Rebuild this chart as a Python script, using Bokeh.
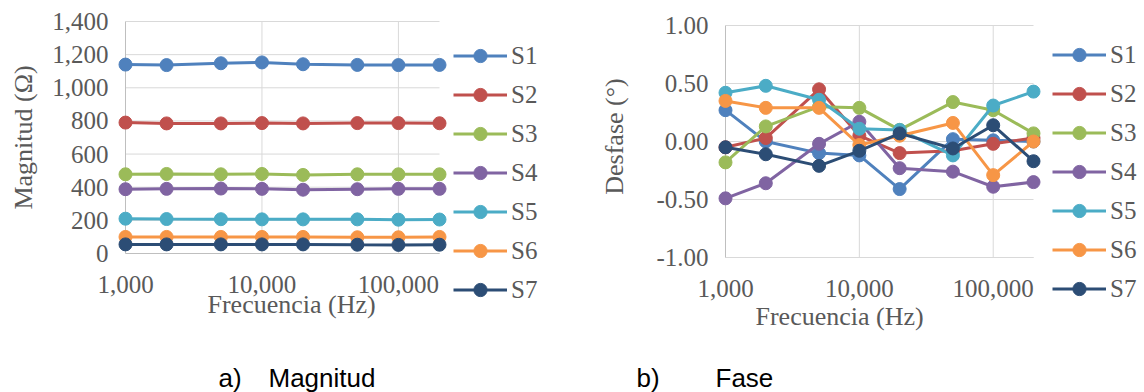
import math
from bokeh.plotting import figure
from bokeh.models import (Range1d, FixedTicker, NumeralTickFormatter, Legend,
                          LegendItem, ColumnDataSource)
from bokeh.layouts import row
from bokeh.embed import file_html
from bokeh.resources import INLINE
from bokeh.core.properties import value

# ---------------- data ----------------
freqs = [1000, 2000, 5000, 10000, 20000, 50000, 100000, 200000]
series_names = ["S1", "S2", "S3", "S4", "S5", "S6", "S7"]

mag_S1 = [1140, 1137, 1148, 1153, 1142, 1138, 1137, 1138]
mag_S2 = [790, 785, 785, 787, 785, 787, 787, 786]
mag_S3 = [478, 480, 478, 480, 474, 478, 478, 478]
mag_S4 = [388, 390, 392, 390, 385, 388, 390, 390]
mag_S5 = [210, 208, 207, 206, 206, 206, 204, 205]
mag_S6 = [100, 100, 100, 100, 100, 98, 98, 100]
mag_S7 = [55, 55, 55, 55, 55, 53, 52, 53]

pha_S1 = [0.27, 0.00, -0.10, -0.12, -0.41, 0.02, 0.01, 0.00]
pha_S2 = [-0.05, 0.03, 0.45, 0.05, -0.10, -0.08, -0.02, 0.03]
pha_S3 = [-0.18, 0.13, 0.30, 0.29, 0.10, 0.34, 0.27, 0.07]
pha_S4 = [-0.49, -0.36, -0.02, 0.17, -0.23, -0.26, -0.39, -0.35]
pha_S5 = [0.42, 0.48, 0.36, 0.11, 0.10, -0.12, 0.31, 0.43]
pha_S6 = [0.35, 0.29, 0.29, -0.03, 0.05, 0.16, -0.29, 0.00]
pha_S7 = [-0.05, -0.11, -0.21, -0.08, 0.07, -0.06, 0.14, -0.17]

x_ticks = [1000, 10000, 100000]
mag_ticks = [0, 200, 400, 600, 800, 1000, 1200, 1400]
pha_ticks = [-1.0, -0.5, 0.0, 0.5, 1.0]

mag_title_y = "Magnitud (\u03a9)"
pha_title_y = "Desfase (\u00b0)"
x_title = "Frecuencia (Hz)"
captions = ["a)", "Magnitud", "b)", "Fase"]

mag_series = [mag_S1, mag_S2, mag_S3, mag_S4, mag_S5, mag_S6, mag_S7]
pha_series = [pha_S1, pha_S2, pha_S3, pha_S4, pha_S5, pha_S6, pha_S7]

# ---------------- styles / layout (pixels from the picture's top-left) ----------------
colors = ["#4f81bd", "#c0504d", "#9bbb59", "#8064a2", "#4bacc6", "#f79646", "#2c4d75"]
TXT = "#595959"
FS = "25px"
FS_TITLE = "26px"
SERIF = value("Liberation Serif")
GRID = "#d9d9d9"
AXIS = "#bfbfbf"
FIG_H = 392
FRAME_BOTTOM = FIG_H
LEGEND_H = 268
TEXT_DY = -9   # correction for the rendered alphabetic baseline


def make_half(series, y_lo, y_hi, y_ticks, y_fmt, ytitle, caps, L):
    frame_right = L["canvas_left"] + L["width"]
    pl, pr, pt, pb = L["plot_left"], L["plot_right"], L["plot_top"], L["plot_bottom"]
    dec_per_px = (math.log10(freqs[-1]) - math.log10(freqs[0])) / (pr - pl)
    x_end = 10 ** (math.log10(freqs[0]) + (frame_right - pl) * dec_per_px)
    u_per_px = (y_hi - y_lo) / (pb - pt)
    y_start = y_lo - (FRAME_BOTTOM - pb) * u_per_px
    y_end = y_hi + pt * u_per_px

    p = figure(x_axis_type="log", x_range=Range1d(freqs[0], x_end),
               y_range=Range1d(y_start, y_end), width=L["width"], height=FIG_H,
               min_border_left=pl - L["canvas_left"], min_border_top=0,
               min_border_right=0, min_border_bottom=0, x_axis_location=None,
               toolbar_location=None, output_backend="svg",
               background_fill_color="white", border_fill_color="white")
    p.outline_line_color = None
    p.grid.visible = False

    # y axis (real axis, limited to the plot area)
    ax = p.yaxis[0]
    ax.ticker = FixedTicker(ticks=y_ticks)
    ax.formatter = NumeralTickFormatter(format=y_fmt)
    ax.bounds = (y_lo, y_hi)
    ax.major_tick_line_color = None
    ax.minor_tick_line_color = None
    ax.major_tick_in = 0
    ax.major_tick_out = 0
    ax.minor_tick_in = 0
    ax.minor_tick_out = 0
    ax.major_label_text_font = "Liberation Serif"
    ax.major_label_text_font_size = FS
    ax.major_label_text_color = TXT
    ax.major_label_standoff = 17
    ax.axis_line_color = AXIS

    # gridlines restricted to the plot area
    n_y, n_x = len(y_ticks), len(x_ticks)
    p.segment(x0=[freqs[0]] * n_y, x1=[freqs[-1]] * n_y, y0=y_ticks, y1=y_ticks,
              line_color=GRID, line_width=1, level="underlay")
    p.segment(x0=x_ticks, x1=x_ticks, y0=[y_lo] * n_x, y1=[y_hi] * n_x,
              line_color=GRID, line_width=1, level="underlay")
    p.segment(x0=[freqs[0]], x1=[freqs[-1]], y0=[y_lo], y1=[y_lo],
              line_color=L["bottom_axis"], line_width=1, level="underlay")

    # x tick labels
    p.text(x=x_ticks, y=[y_lo] * n_x, text=[f"{t:,}" for t in x_ticks],
           y_offset=L["tick_base"] - pb + TEXT_DY, level="overlay", text_font=SERIF,
           text_font_size=FS, text_color=TXT, text_align="center",
           text_baseline="alphabetic")
    # x title
    p.text(x=[freqs[0]], y=[y_lo], text=[x_title], x_offset=L["xt_x"] - pl,
           y_offset=L["xt_base"] - pb + TEXT_DY, level="overlay", text_font=SERIF,
           text_font_size=FS_TITLE, text_color=TXT, text_align="left",
           text_baseline="alphabetic")
    # y title
    p.text(x=[freqs[0]], y=[(y_lo + y_hi) / 2], text=[ytitle],
           x_offset=L["yt_x"] - pl, y_offset=L["yt_y"] - (pt + pb) / 2,
           angle=math.pi / 2, level="overlay", text_font=SERIF,
           text_font_size=FS_TITLE, text_color=TXT, text_align="center",
           text_baseline="middle")
    # caption
    p.text(x=[freqs[0]] * len(caps), y=[y_lo] * len(caps), text=caps,
           x_offset=[cx - pl for cx in L["cap_x"]],
           y_offset=L["cap_base"] - pb + TEXT_DY,
           level="overlay", text_font=value("Liberation Sans"), text_font_size="26px",
           text_color="black", text_align="left", text_baseline="alphabetic")

    # series
    items = []
    for name, col, vals in zip(series_names, colors, series):
        src = ColumnDataSource(dict(x=freqs, y=vals))
        ln = p.line("x", "y", source=src, line_color=col, line_width=3, level="overlay")
        sc = p.scatter("x", "y", source=src, size=13, fill_color=col, line_color=col,
                       level="overlay")
        items.append(LegendItem(label=name, renderers=[ln, sc]))

    leg = Legend(items=items,
                 location=(L["leg_x"] - pl, FRAME_BOTTOM - L["leg_top"] - LEGEND_H),
                 orientation="vertical", border_line_color=None,
                 background_fill_alpha=0, padding=0, margin=0, spacing=6,
                 glyph_width=54, glyph_height=33, label_height=33, label_standoff=4,
                 label_text_font="Liberation Serif", label_text_font_size=FS,
                 label_text_color=TXT)
    p.add_layout(leg, "center")
    return p


L1 = dict(canvas_left=0, width=572, plot_left=125, plot_right=439, plot_top=21,
          plot_bottom=253, tick_base=293, xt_x=207, xt_base=313, yt_x=23, yt_y=137,
          leg_x=453, leg_top=38, cap_x=[218, 268], cap_base=386, bottom_axis=AXIS)
L2 = dict(canvas_left=572, width=572, plot_left=725, plot_right=1033, plot_top=25,
          plot_bottom=257, tick_base=297, xt_x=755, xt_base=325, yt_x=614, yt_y=136,
          leg_x=1052, leg_top=37, cap_x=[636, 715], cap_base=386, bottom_axis=GRID)

p1 = make_half(mag_series, 0, 1400, mag_ticks, "0,0", mag_title_y, captions[:2], L1)
p2 = make_half(pha_series, -1.0, 1.0, pha_ticks, "0.00", pha_title_y, captions[2:], L2)

layout = row(p1, p2)
open("out.html", "w").write(file_html(layout, INLINE))
